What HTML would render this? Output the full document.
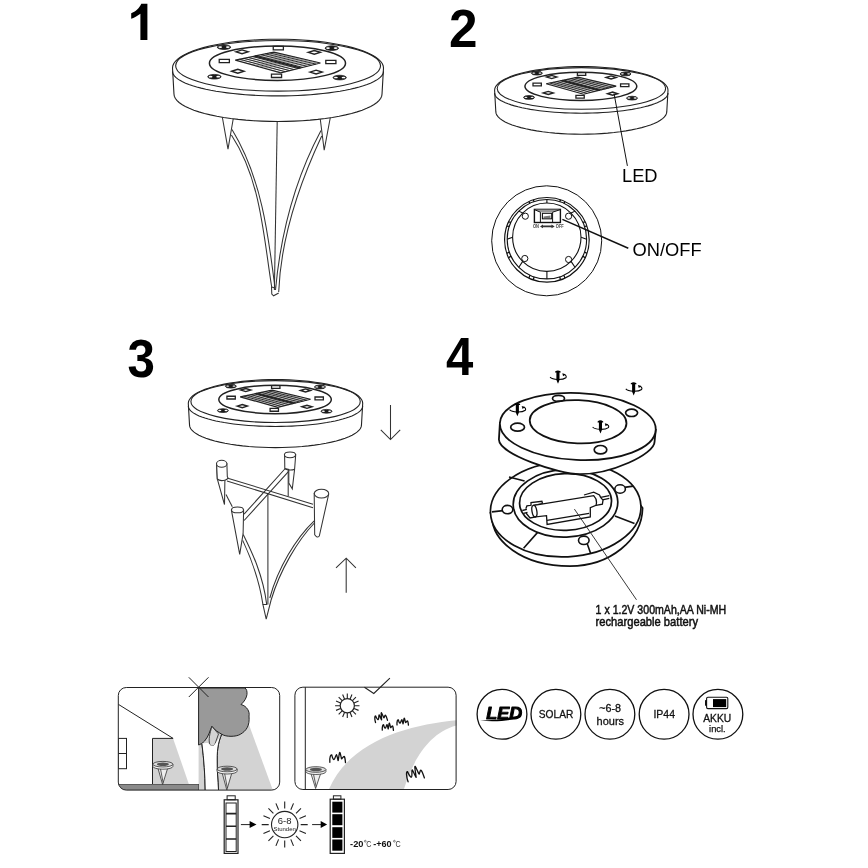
<!DOCTYPE html><html><head><meta charset="utf-8"><style>html,body{margin:0;padding:0;background:#fff;width:868px;height:868px;overflow:hidden}svg{display:block;filter:grayscale(1)}</style></head><body>
<svg width="868" height="868" viewBox="0 0 868 868" font-family='"Liberation Sans", sans-serif'>
<rect width="868" height="868" fill="#fff"/>
<defs><g id="disc" fill="none" stroke="#222" stroke-width="1.1"><path vector-effect="non-scaling-stroke" fill="#fff" d="M-100.00,3.30 L-99.69,1.16 L-98.77,-0.97 L-97.24,-3.07 L-95.11,-5.14 L-92.39,-7.15 L-89.10,-9.09 L-85.26,-10.96 L-80.90,-12.75 L-76.04,-14.43 L-70.71,-16.00 L-64.94,-17.46 L-58.78,-18.79 L-52.25,-19.98 L-45.40,-21.02 L-38.27,-21.92 L-30.90,-22.66 L-23.34,-23.25 L-15.64,-23.66 L-7.85,-23.92 L-0.00,-24.00 L7.85,-23.92 L15.64,-23.66 L23.34,-23.25 L30.90,-22.66 L38.27,-21.92 L45.40,-21.02 L52.25,-19.98 L58.78,-18.79 L64.94,-17.46 L70.71,-16.00 L76.04,-14.43 L80.90,-12.75 L85.26,-10.96 L89.10,-9.09 L92.39,-7.15 L95.11,-5.14 L97.24,-3.07 L98.77,-0.97 L99.69,1.16 L100.00,3.30 L98.60,28.00 L98.30,30.04 L97.39,32.07 L95.88,34.07 L93.77,36.03 L91.09,37.95 L87.85,39.80 L84.07,41.58 L79.77,43.28 L74.98,44.89 L69.72,46.38 L64.04,47.77 L57.96,49.03 L51.52,50.17 L44.76,51.17 L37.73,52.02 L30.47,52.73 L23.02,53.28 L15.42,53.68 L7.74,53.92 L0.00,54.00 L-7.74,53.92 L-15.42,53.68 L-23.02,53.28 L-30.47,52.73 L-37.73,52.02 L-44.76,51.17 L-51.52,50.17 L-57.96,49.03 L-64.04,47.77 L-69.72,46.38 L-74.98,44.89 L-79.77,43.28 L-84.07,41.58 L-87.85,39.80 L-91.09,37.95 L-93.77,36.03 L-95.88,34.07 L-97.39,32.07 L-98.30,30.04 L-98.60,28.00 Z"/><ellipse vector-effect="non-scaling-stroke" cx="0.1" cy="1.23" rx="97.1" ry="24"/><path vector-effect="non-scaling-stroke" d="M-100.00,6.45 L-99.80,7.91 L-99.21,9.37 L-98.23,10.82 L-96.86,12.24 L-95.11,13.65 L-92.98,15.03 L-90.48,16.37 L-87.63,17.67 L-84.43,18.93 L-80.90,20.15 L-77.05,21.30 L-72.90,22.40 L-68.45,23.43 L-63.74,24.40 L-58.78,25.30 L-53.58,26.12 L-48.18,26.87 L-42.58,27.53 L-36.81,28.11 L-30.90,28.61 L-24.87,29.02 L-18.74,29.34 L-12.53,29.57 L-6.28,29.70 L0.00,29.75 L6.28,29.70 L12.53,29.57 L18.74,29.34 L24.87,29.02 L30.90,28.61 L36.81,28.11 L42.58,27.53 L48.18,26.87 L53.58,26.12 L58.78,25.30 L63.74,24.40 L68.45,23.43 L72.90,22.40 L77.05,21.30 L80.90,20.15 L84.43,18.93 L87.63,17.67 L90.48,16.37 L92.98,15.03 L95.11,13.65 L96.86,12.24 L98.23,10.82 L99.21,9.37 L99.80,7.91 L100.00,6.45"/><ellipse vector-effect="non-scaling-stroke" cx="-0.5" cy="-1.2" rx="64.5" ry="16.3" stroke-width="1.5"/><ellipse vector-effect="non-scaling-stroke" cx="-51.2" cy="-16.4" rx="6.3" ry="2.2" fill="#1a1a1a" stroke-width="0.8"/><ellipse cx="-54.8" cy="-16.5" rx="1.8" ry="0.8" fill="#fff" stroke="none"/><ellipse cx="-47.6" cy="-16.5" rx="1.8" ry="0.8" fill="#fff" stroke="none"/><ellipse vector-effect="non-scaling-stroke" cx="51.0" cy="-15.5" rx="6.3" ry="2.2" fill="#1a1a1a" stroke-width="0.8"/><ellipse cx="47.4" cy="-15.6" rx="1.8" ry="0.8" fill="#fff" stroke="none"/><ellipse cx="54.6" cy="-15.6" rx="1.8" ry="0.8" fill="#fff" stroke="none"/><ellipse vector-effect="non-scaling-stroke" cx="-60.3" cy="11.6" rx="6.3" ry="2.2" fill="#1a1a1a" stroke-width="0.8"/><ellipse cx="-63.9" cy="11.5" rx="1.8" ry="0.8" fill="#fff" stroke="none"/><ellipse cx="-56.7" cy="11.5" rx="1.8" ry="0.8" fill="#fff" stroke="none"/><ellipse vector-effect="non-scaling-stroke" cx="58.5" cy="12.4" rx="6.3" ry="2.2" fill="#1a1a1a" stroke-width="0.8"/><ellipse cx="54.9" cy="12.3" rx="1.8" ry="0.8" fill="#fff" stroke="none"/><ellipse cx="62.1" cy="12.3" rx="1.8" ry="0.8" fill="#fff" stroke="none"/><rect vector-effect="non-scaling-stroke" x="-4.5" y="-17.1" width="9.6" height="3.2" fill="#fff" stroke-width="1.3"/><rect vector-effect="non-scaling-stroke" x="-6.2" y="9.1" width="9.6" height="3.2" fill="#fff" stroke-width="1.3"/><rect vector-effect="non-scaling-stroke" x="-55.7" y="-4.9" width="9.6" height="3.2" fill="#fff" stroke-width="1.3"/><rect vector-effect="non-scaling-stroke" x="45.3" y="-4.0" width="9.6" height="3.2" fill="#fff" stroke-width="1.3"/><path vector-effect="non-scaling-stroke" d="M-39.9,-12.0 L-34.1,-13.8 L-28.3,-12.0 L-34.1,-10.2 Z" fill="#fff" stroke-width="1.4"/><path vector-effect="non-scaling-stroke" d="M28.6,-11.5 L34.4,-13.3 L40.2,-11.5 L34.4,-9.7 Z" fill="#fff" stroke-width="1.4"/><path vector-effect="non-scaling-stroke" d="M-43.9,6.4 L-38.1,4.6 L-32.3,6.4 L-38.1,8.2 Z" fill="#fff" stroke-width="1.4"/><path vector-effect="non-scaling-stroke" d="M30.3,7.2 L36.1,5.4 L41.9,7.2 L36.1,9.0 Z" fill="#fff" stroke-width="1.4"/><path vector-effect="non-scaling-stroke" d="M-40.5,-4.2 L-3.9,-11.8 L40.2,-1.4 L2.6,7.9 Z" fill="#fff" stroke-width="1.2"/><path vector-effect="non-scaling-stroke" d="M-36.43,-5.04 L6.78,6.87 M-32.37,-5.89 L10.96,5.83 M-28.30,-6.73 L15.13,4.80 M-24.23,-7.58 L19.31,3.77 M-20.17,-8.42 L23.49,2.73 M-16.10,-9.27 L27.67,1.70 M-12.03,-10.11 L31.84,0.67 M-7.97,-10.96 L36.02,-0.37" stroke-width="0.95"/><path vector-effect="non-scaling-stroke" d="M-36.58,-3.10 L0.11,-10.85 M-32.66,-2.00 L4.12,-9.91 M-28.75,-0.90 L8.13,-8.96 M-24.83,0.20 L12.14,-8.02 M-20.91,1.30 L16.15,-7.07 M-16.99,2.40 L20.15,-6.13 M-13.07,3.50 L24.16,-5.18 M-9.15,4.60 L28.17,-4.24 M-5.24,5.70 L32.18,-3.29 M-1.32,6.80 L36.19,-2.35" stroke-width="0.4"/><path vector-effect="non-scaling-stroke" d="M-22.20,-8.00 L21.40,3.25" stroke-width="1.5"/></g></defs>
<text x="449" y="46.7" font-size="52.5" font-weight="bold" fill="#000" transform="translate(451,47) scale(0.976,1.01) translate(-451,-47)">2</text>
<text x="127.5" y="377.3" font-size="52.5" font-weight="bold" fill="#000" transform="translate(129,377.5) scale(0.94,1.02) translate(-129,-377.5)">3</text>
<text x="446" y="374.9" font-size="52.5" font-weight="bold" fill="#000" transform="translate(447,375) scale(0.936,1.01) translate(-447,-375)">4</text>
<path d="M141.3,3.7 L147.4,3.7 L147.4,40 L140.4,40 L140.4,13.8 C137.5,16 134,18 131.2,18.7 L131.2,13.2 C135.5,11.5 139.5,8 141.3,3.7 Z" fill="#000"/>
<g fill="none" stroke="#333" stroke-width="1.05">
<path d="M222.3,117 L228,149.2 L233.2,119" fill="#fff"/>
<path d="M320,117 L324.2,150.2 L330.6,116" fill="#fff"/>
<path d="M277.2,121.5 L274.4,290"/>
<path d="M231.4,135.0 C260.9,179.8 263.4,235.6 271.7,287.0"/>
<path d="M232.0,129.5 C261.2,177.2 268.3,233.7 275.0,288.0"/>
<path d="M321.7,136.0 C298.8,184.9 280.8,237.6 278.7,292.0"/>
<path d="M321.0,130.4 C294.8,179.4 280.5,234.9 275.5,290.0"/>
<path d="M271.5,287 L271.8,294 L273.6,295.8 L278.7,293 M271.5,287 L275,288"/>
</g>
<use href="#disc" transform="translate(278,64.5) scale(1.055)"/>
<use href="#disc" transform="translate(581.3,87.4) scale(0.867)"/>
<g fill="none" stroke="#111" stroke-width="1">
<path d="M614,93.4 L627.4,165.9"/>
<circle cx="546.7" cy="240.8" r="55"/>
<circle cx="546.9" cy="239.8" r="42.3" stroke-width="1.2"/>
<circle cx="546.9" cy="239.2" r="39.7" stroke-width="1.1"/>
<circle cx="546.8" cy="237.2" r="34.2" stroke-width="1.1"/>
<circle cx="525.3" cy="216.2" r="3.1"/>
<circle cx="568.6" cy="216.2" r="3.1"/>
<circle cx="524.8" cy="258.5" r="3.1"/>
<circle cx="568.6" cy="259.5" r="3.1"/>
<path d="M546.90,203.00 L546.90,199.50 M546.90,271.40 L546.90,278.90 M512.70,237.20 L507.20,239.20 M581.10,237.20 L586.60,239.20 M522.72,213.02 L518.83,211.13 M571.08,213.02 L574.97,211.13 M522.72,261.38 L518.83,267.27 M571.08,261.38 L574.97,267.27" stroke-width="1.1"/>
<path d="M530.00,203.28 L528.89,201.53 M534.11,201.62 L533.27,199.76 M559.69,201.62 L560.53,199.76 M563.80,203.28 L564.91,201.53 M509.32,226.41 L506.86,226.17 M510.98,222.30 L508.63,221.79 M582.82,222.30 L585.17,221.79 M584.48,226.41 L586.94,226.17 M510.98,256.10 L508.63,257.81 M509.32,251.99 L506.86,253.43 M584.48,251.99 L586.94,253.43 M582.82,256.10 L585.17,257.81 M534.11,276.78 L533.27,279.84 M530.00,275.12 L528.89,278.07 M563.80,275.12 L564.91,278.07 M559.69,276.78 L560.53,279.84" stroke-width="1.3"/>
<rect x="534.4" y="209.4" width="26" height="13.1" stroke-width="1.4" fill="#fff"/>
<path d="M534.4,209.6 L540.4,212.2 H552.6 L560.4,209.6 Z" fill="#999" stroke="none"/>
<path d="M540.4,212.2 V222.5 M552.6,212.2 V222.5 M534.4,209.6 L540.4,212.2 M560.4,209.6 L552.6,212.2" stroke-width="1"/>
<rect x="542.4" y="213.3" width="9.3" height="5.5" stroke-width="1.1" fill="#fff"/>
<path d="M543.5,216.5 L550.5,215.5 V218 H543.5 Z" fill="#777" stroke="none"/>
<path d="M562.4,219.4 L628.3,248.2" stroke-width="1.5"/>
</g>
<text x="533" y="228.2" font-size="4.6" font-weight="bold" fill="#444" textLength="6" lengthAdjust="spacingAndGlyphs">ON</text><text x="555.8" y="228.2" font-size="4.6" font-weight="bold" fill="#444" textLength="8" lengthAdjust="spacingAndGlyphs">OFF</text>
<path d="M540,226.4 L543,224.6 V225.6 H551.5 V224.6 L554.7,226.4 L551.5,228.2 V227.2 H543 V228.2 Z" fill="#333"/>
<text x="622" y="181.8" font-size="18.3" fill="#000">LED</text>
<text x="632.5" y="255.8" font-size="18.3" fill="#000">ON/OFF</text>
<use href="#disc" transform="translate(275.5,400.5) scale(0.872)"/>
<g fill="none" stroke="#333" stroke-width="1.05">
<path d="M390.5,405 V439.6 M380.8,429.9 L390.5,439.6 L400.2,429.9"/>
<path d="M346.2,558.2 V592.8 M336,567.8 L346.2,558.2 L355.9,567.8"/>
<path d="M243.2,534.4 C252,552 263,575 266.7,604.4 L262.9,604.4 C259,578 250,556 242.7,540.4" fill="#fff"/>
<path d="M262.9,604.4 L266.2,619.2 L271.1,600"/>
<path d="M314.4,523 C298,540 280,570 271.1,600 M314.2,520.8 C296,538 278,568 269.8,598"/>
<path d="M267.9,493 V604.4"/>
<path d="M288.2,469.2 V496.2"/>
<path d="M226,494.6 L232.3,506.8"/>
<path d="M227,477.9 L313,504.3 M227,480.9 L313,507.8" />
<path d="M244.1,514.1 L284.8,469 M244.1,520.5 L290,469.8"/>
<path d="M216.6,464.5 L217.3,479 L224.5,504.6 L224.9,479.4" fill="#fff"/>
<path d="M216.6,463.8 L217.3,479 A5.2,2.5 0 0 0 227.3,476.6 L226.9,463.8 Z" fill="#fff"/>
<ellipse cx="221.7" cy="463.8" rx="5.2" ry="3.5" fill="#fff"/>
<path d="M284.6,454.8 L284.8,468.6 L288.8,469.5 L288.8,483 L292.3,488.8 L294.6,469.2 L295.7,454.8 Z" fill="#fff"/>
<path d="M284.8,468.6 A5.5,2 0 0 0 294.6,469.2"/>
<ellipse cx="290" cy="454.8" rx="5.6" ry="2.9" fill="#fff"/>
<path d="M314.2,493.4 L314.7,534.8 Q317,538.5 319.3,536 L328.6,494.5 Z" fill="#fff"/>
<ellipse cx="321.5" cy="493.6" rx="7.2" ry="4.4" fill="#fff"/>
<path d="M231.4,510.2 L239.7,554.3 L243.1,533.7 L243.6,510.2 Z" fill="#fff"/>
<ellipse cx="237.5" cy="509.9" rx="6" ry="2.9" fill="#fff"/>
</g>
<g fill="none" stroke="#111" stroke-width="1.8">
<path d="M490.5,513 L491.9,517.6 C493,540 520,566 570,566.2 C610,566 642,540 642.6,508 L640.9,505.7 Z" fill="#fff" stroke-width="1.7"/>
<ellipse cx="565.7" cy="509.35" rx="75.3" ry="47.5" transform="rotate(-2.8 565.7 509.35)" fill="#fff" stroke-width="1.7"/>
<ellipse cx="565.5" cy="503.35" rx="52.3" ry="33.7" transform="rotate(-2 565.5 503.35)" fill="#fff" stroke-width="1.7"/>
<ellipse cx="565.55" cy="502" rx="46" ry="28.3" transform="rotate(-2 565.55 502)" stroke-width="1.7"/>
<path d="M491.9,511.9 L513.2,509.5 M509,477 L524.6,481.1 M523.6,548.2 L537.4,532.6 M590.7,553.5 L587.3,544 M614.9,516.1 L634.5,523.6 M616.9,488.4 L633.4,486.1" stroke-width="1.6"/>
<ellipse cx="507.5" cy="509.6" rx="5.3" ry="4.2" fill="#fff" stroke-width="1.6"/>
<ellipse cx="620.1" cy="489" rx="5.3" ry="4.2" fill="#fff" stroke-width="1.6"/>
<ellipse cx="583.8" cy="540.3" rx="5.3" ry="4.2" fill="#fff" stroke-width="1.6"/>
<g stroke-width="1.3" stroke-linejoin="miter">
<path d="M522.3,510.5 L526.9,509.4 M523.5,513.4 L527.5,512.3 M600.6,497.3 L609.3,495.6 M601.2,500.2 L609.3,498.4"/>
<path d="M525.8,508.8 L526.9,505.9 L531,505.3 L531,502.5 L541.9,501.3 L542.5,503.6 L533.8,505.3" fill="#fff"/>
<path d="M584,495 L593.7,492.1 L599.5,495 L600.6,497.3 L603,500.2 L602.4,504.2 L596,505.3" fill="#fff"/>
<path d="M533.8,505.3 L593.7,495.6 C596,498 597,502 596,505.3 L590.3,507.6 L590.3,516.9 L547.1,524.4 L546.5,515.7 L536.1,516.9 Z" fill="#fff"/>
<path d="M547,520.3 L589.1,513.4"/>
<ellipse cx="534.4" cy="511.1" rx="2.4" ry="5.8" transform="rotate(-10 534.4 511.1)" fill="#fff"/>
<path d="M526,513 L530,518 L536.1,516.9"/>
</g>
<path d="M499.9,423.1 L498.9,439.6 C498.9,454.3 559,474.2 580,474.2 C610.4,474.2 654.6,454.6 654.6,441.5 L655.7,429.9 Z" fill="#fff"/>
<ellipse cx="577.8" cy="426.5" rx="78" ry="33.5" fill="#fff" transform="rotate(2.5 577.8 426.5)"/>
<ellipse cx="578.1" cy="421.8" rx="48.4" ry="21.6" transform="rotate(2 578 422)"/>
<ellipse cx="517.6" cy="427.2" rx="6.9" ry="4" stroke-width="1.7"/>
<ellipse cx="558.5" cy="398.4" rx="6" ry="3" stroke-width="1.7"/>
<ellipse cx="631.6" cy="412.8" rx="6" ry="3.7" stroke-width="1.7"/>
<ellipse cx="600.5" cy="449.7" rx="6.3" ry="4.2" stroke-width="1.7"/>
</g>
<g transform="translate(557.7,383.7)"><path d="M-2.6,-12.2 Q0.2,-14.3 3,-12.2 V-11.2 H1.8 V-3.8 L0.3,0 L-1.3,-3.8 V-11.2 H-2.6 Z" fill="#000"/><path d="M-7.6,-6.6 C-5,-3.6 5,-3.6 8.2,-6 C9,-7.2 8.3,-8.6 6.6,-9.2" fill="none" stroke="#000" stroke-width="1.1"/><path d="M4.6,-10.4 L8,-9.4 L5.4,-7.4 Z" fill="#000"/></g>
<g transform="translate(633.4,395.5)"><path d="M-2.6,-12.2 Q0.2,-14.3 3,-12.2 V-11.2 H1.8 V-3.8 L0.3,0 L-1.3,-3.8 V-11.2 H-2.6 Z" fill="#000"/><path d="M-7.6,-6.6 C-5,-3.6 5,-3.6 8.2,-6 C9,-7.2 8.3,-8.6 6.6,-9.2" fill="none" stroke="#000" stroke-width="1.1"/><path d="M4.6,-10.4 L8,-9.4 L5.4,-7.4 Z" fill="#000"/></g>
<g transform="translate(517.1,416.3)"><path d="M-2.6,-12.2 Q0.2,-14.3 3,-12.2 V-11.2 H1.8 V-3.8 L0.3,0 L-1.3,-3.8 V-11.2 H-2.6 Z" fill="#000"/><path d="M-7.6,-6.6 C-5,-3.6 5,-3.6 8.2,-6 C9,-7.2 8.3,-8.6 6.6,-9.2" fill="none" stroke="#000" stroke-width="1.1"/><path d="M4.6,-10.4 L8,-9.4 L5.4,-7.4 Z" fill="#000"/></g>
<g transform="translate(600.2,433.6)"><path d="M-2.6,-12.2 Q0.2,-14.3 3,-12.2 V-11.2 H1.8 V-3.8 L0.3,0 L-1.3,-3.8 V-11.2 H-2.6 Z" fill="#000"/><path d="M-7.6,-6.6 C-5,-3.6 5,-3.6 8.2,-6 C9,-7.2 8.3,-8.6 6.6,-9.2" fill="none" stroke="#000" stroke-width="1.1"/><path d="M4.6,-10.4 L8,-9.4 L5.4,-7.4 Z" fill="#000"/></g>
<path d="M574.4,509.1 L636.5,599.8" stroke="#222" stroke-width="0.9"/>
<text x="595.6" y="613.6" font-size="12.4" fill="#111" stroke="#111" stroke-width="0.5" textLength="130.6" lengthAdjust="spacingAndGlyphs">1 x 1.2V 300mAh,AA Ni-MH</text>
<text x="595.6" y="625.8" font-size="12.4" fill="#111" stroke="#111" stroke-width="0.5" textLength="102.4" lengthAdjust="spacingAndGlyphs">rechargeable battery</text>
<clipPath id="cp1"><rect x="118.3" y="687.5" width="161.4" height="102.6" rx="8"/></clipPath>
<g stroke="#222" stroke-width="1" clip-path="url(#cp1)">
<polygon points="152.5,738.4 173.1,738.4 188.8,784 152.5,784" fill="#d3d3d3" stroke="none"/>
<path d="M152.5,784 V738.4 H173.1" fill="none"/>
<polygon points="198.6,725 248,722 272.8,790 198.6,790" fill="#d3d3d3" stroke="none"/>
<rect x="110" y="784.4" width="88.6" height="8" fill="#8a8a8a" stroke="#444" stroke-width="0.8"/>
<path d="M118.3,704.3 L173.1,738.4" fill="none"/>
<rect x="118.3" y="738.4" width="8.2" height="30.3" fill="none"/><path d="M118.3,753.5 H126.5"/>
<path d="M198.6,688 H245 C248,690 248.5,698 241,704.5 C247,706 250,712 249,716 C250,726 246,731 240.3,734.3 C236,737 226,737 221.8,734.3 C216,731 213,728 211.9,726.4 C210,730 209,736 204.6,741 C203,743 200,744.5 198.6,745 Z" fill="#999"/>
<path d="M211.9,726.4 C210,733 208,740 210,745 C212,747 214,746 215,744 L218.5,734 Z" fill="#d3d3d3" stroke="#222" stroke-width="0.8"/>
<path d="M201.9,743.6 C204,760 205,775 205.2,790 M221.8,734.3 C219,740 217,748 217.2,760 C217,770 218,780 218.5,790" fill="none"/>
<path d="M201.9,743.6 C204,760 205,775 205.2,790 H218.5 C218,780 217,770 217.2,760 C217,748 219,740 221.8,734.3 L215,744 C214,746 212,747 210,745 C209,742 205,743 201.9,743.6Z" fill="#fff" stroke="none"/>
<path d="M201.9,743.6 C204,760 205,775 205.2,790 M221.8,734.3 C219,740 217,748 217.2,760 C217,770 218,780 218.5,790" fill="none"/>
</g>
<g stroke="#222" stroke-width="1"><rect x="118.3" y="687.5" width="161.4" height="102.6" rx="8" fill="none"/>
<path d="M188.8,677.3 L208.5,697 M208.5,677.3 L188.8,697" fill="none"/>
</g>
<g stroke="#333" stroke-width="0.8"><path d="M158.1,768.7 L162.6,784.5 L167.5,768.7" fill="#eee"/><path d="M160.5,769.0 L163.1,782.5" fill="none"/><path d="M152.9,764.2 V766.4 A10,2.8 0 0 0 172.9,766.4 V764.2" fill="#f4f4f4"/><ellipse cx="162.9" cy="764.2" rx="10" ry="2.8" fill="#ddd"/><ellipse cx="162.9" cy="764.2" rx="6" ry="1.7" fill="#555" stroke="none"/></g>
<g stroke="#333" stroke-width="0.8"><path d="M222.3,773.5 L226.8,790.0 L231.7,773.5" fill="#eee"/><path d="M224.7,773.8 L227.3,788.0" fill="none"/><path d="M217.1,769.0 V771.2 A10,2.8 0 0 0 237.1,771.2 V769.0" fill="#f4f4f4"/><ellipse cx="227.1" cy="769.0" rx="10" ry="2.8" fill="#ddd"/><ellipse cx="227.1" cy="769.0" rx="6" ry="1.7" fill="#555" stroke="none"/></g>
<g stroke="#222" stroke-width="1">
<path d="M328.9,790 L328.9,789.3 C350.0,740.7 408.2,724.8 456.5,720.2 L456.5,725.6 C427.1,733.4 412.2,763.0 403.9,789.3 L403.9,790 Z" fill="#d3d3d3" stroke="none"/>
<rect x="294.9" y="687.2" width="161.2" height="102.3" rx="8" fill="none"/>
<path d="M305.3,687.2 V789.5" fill="none"/>
<path d="M364.4,687.2 L373.8,693.5 L389.9,678.2" fill="none" stroke-width="1.1"/>
<circle cx="347.3" cy="705.7" r="7.1" fill="none" stroke-width="1.2"/>
<path d="M354.60,705.70 L359.50,705.70 M354.04,708.49 L358.57,710.37 M352.46,710.86 L355.93,714.33 M350.09,712.44 L351.97,716.97 M347.30,713.00 L347.30,717.90 M344.51,712.44 L342.63,716.97 M342.14,710.86 L338.67,714.33 M340.56,708.49 L336.03,710.37 M340.00,705.70 L335.10,705.70 M340.56,702.91 L336.03,701.03 M342.14,700.54 L338.67,697.07 M344.51,698.96 L342.63,694.43 M347.30,698.40 L347.30,693.50 M350.09,698.96 L351.97,694.43 M352.46,700.54 L355.93,697.07 M354.04,702.91 L358.57,701.03" fill="none" stroke-width="1.1"/>
<path transform="translate(329.0,752.2) rotate(0) scale(17.00,10.70)" d="M0.05,0.94 C0.02,0.5 0.1,0.2 0.16,0.25 C0.2,0.5 0.24,0.72 0.3,0.68 C0.36,0.64 0.4,0.2 0.44,0.22 C0.48,0.3 0.52,0.8 0.54,0.78 C0.57,0.6 0.6,0.0 0.64,0.03 C0.68,0.1 0.72,0.65 0.75,0.62 C0.8,0.55 0.86,0.35 0.9,0.4 C0.95,0.5 0.96,0.8 0.97,0.97" fill="none" stroke="#111" stroke-width="1.3" vector-effect="non-scaling-stroke" stroke-linecap="round"/>
<path transform="translate(373.1,714.2) rotate(-12) scale(13.20,9.20)" d="M0.05,0.94 C0.02,0.5 0.1,0.2 0.16,0.25 C0.2,0.5 0.24,0.72 0.3,0.68 C0.36,0.64 0.4,0.2 0.44,0.22 C0.48,0.3 0.52,0.8 0.54,0.78 C0.57,0.6 0.6,0.0 0.64,0.03 C0.68,0.1 0.72,0.65 0.75,0.62 C0.8,0.55 0.86,0.35 0.9,0.4 C0.95,0.5 0.96,0.8 0.97,0.97" fill="none" stroke="#111" stroke-width="1.3" vector-effect="non-scaling-stroke" stroke-linecap="round"/>
<path transform="translate(381.7,722.9) rotate(0) scale(12.10,7.70)" d="M0.05,0.94 C0.02,0.5 0.1,0.2 0.16,0.25 C0.2,0.5 0.24,0.72 0.3,0.68 C0.36,0.64 0.4,0.2 0.44,0.22 C0.48,0.3 0.52,0.8 0.54,0.78 C0.57,0.6 0.6,0.0 0.64,0.03 C0.68,0.1 0.72,0.65 0.75,0.62 C0.8,0.55 0.86,0.35 0.9,0.4 C0.95,0.5 0.96,0.8 0.97,0.97" fill="none" stroke="#111" stroke-width="1.3" vector-effect="non-scaling-stroke" stroke-linecap="round"/>
<path transform="translate(396.4,718.0) rotate(0) scale(12.40,7.40)" d="M0.05,0.94 C0.02,0.5 0.1,0.2 0.16,0.25 C0.2,0.5 0.24,0.72 0.3,0.68 C0.36,0.64 0.4,0.2 0.44,0.22 C0.48,0.3 0.52,0.8 0.54,0.78 C0.57,0.6 0.6,0.0 0.64,0.03 C0.68,0.1 0.72,0.65 0.75,0.62 C0.8,0.55 0.86,0.35 0.9,0.4 C0.95,0.5 0.96,0.8 0.97,0.97" fill="none" stroke="#111" stroke-width="1.3" vector-effect="non-scaling-stroke" stroke-linecap="round"/>
<path transform="translate(403.7,768.9) rotate(-15) scale(18.20,14.50)" d="M0.05,0.94 C0.02,0.5 0.1,0.2 0.16,0.25 C0.2,0.5 0.24,0.72 0.3,0.68 C0.36,0.64 0.4,0.2 0.44,0.22 C0.48,0.3 0.52,0.8 0.54,0.78 C0.57,0.6 0.6,0.0 0.64,0.03 C0.68,0.1 0.72,0.65 0.75,0.62 C0.8,0.55 0.86,0.35 0.9,0.4 C0.95,0.5 0.96,0.8 0.97,0.97" fill="none" stroke="#111" stroke-width="1.3" vector-effect="non-scaling-stroke" stroke-linecap="round"/>
</g>
<g stroke="#333" stroke-width="0.8"><path d="M311.1,774.0 L315.6,788.5 L320.5,774.0" fill="#eee"/><path d="M313.5,774.3 L316.1,786.5" fill="none"/><path d="M305.9,769.5 V771.7 A10,2.8 0 0 0 325.9,771.7 V769.5" fill="#f4f4f4"/><ellipse cx="315.9" cy="769.5" rx="10" ry="2.8" fill="#ddd"/><ellipse cx="315.9" cy="769.5" rx="6" ry="1.7" fill="#555" stroke="none"/></g>
<g stroke="#222" stroke-width="1" fill="none">
<rect x="224.2" y="799.8" width="13.8" height="53.6" stroke-width="1.2"/>
<rect x="227.1" y="795.8" width="8.1" height="4"/>
<rect x="226" y="803" width="10.2" height="48.5"/>
<path d="M226,813.6 H236.2 M226,826.3 H236.2 M226,839 H236.2" stroke-width="1.6"/>
<path d="M240.9,824.6 H250"/><path d="M249.6,821.1 L256.5,824.6 L249.6,828 Z" fill="#000" stroke="none"/>
<circle cx="284.7" cy="824.6" r="13.2" stroke-width="1.1"/>
<path d="M300.70,824.60 L307.70,824.60 M299.48,830.72 L305.95,833.40 M296.01,835.91 L300.96,840.86 M290.82,839.38 L293.50,845.85 M284.70,840.60 L284.70,847.60 M278.58,839.38 L275.90,845.85 M273.39,835.91 L268.44,840.86 M269.92,830.72 L263.45,833.40 M268.70,824.60 L261.70,824.60 M269.92,818.48 L263.45,815.80 M273.39,813.29 L268.44,808.34 M278.58,809.82 L275.90,803.35 M284.70,808.60 L284.70,801.60 M290.82,809.82 L293.50,803.35 M296.01,813.29 L300.96,808.34 M299.48,818.48 L305.95,815.80" stroke-width="1.1"/>
<path d="M312.1,824.6 H321"/><path d="M320.7,821.1 L327.1,824.6 L320.7,828 Z" fill="#000" stroke="none"/>
<rect x="330.2" y="799.2" width="14.2" height="54.2" stroke-width="1.2"/>
<rect x="333.4" y="795.8" width="7.5" height="3.4"/>
</g>
<rect x="332.3" y="801.7" width="10.1" height="10.9" fill="#000"/>
<rect x="332.3" y="814.2" width="10.1" height="11.0" fill="#000"/>
<rect x="332.3" y="827.2" width="10.1" height="10.7" fill="#000"/>
<rect x="332.3" y="839.5" width="10.1" height="11.2" fill="#000"/>
<text x="284.7" y="824" font-size="9.5" text-anchor="middle" fill="#222">6-8</text>
<text x="284.7" y="830.5" font-size="6" text-anchor="middle" fill="#222">Stunden</text>
<text x="350.1" y="847.1" font-size="9.8" font-weight="bold" fill="#111" textLength="13.4" lengthAdjust="spacingAndGlyphs">-20</text>
<text x="373.2" y="847.1" font-size="9.8" font-weight="bold" fill="#111" textLength="18.4" lengthAdjust="spacingAndGlyphs">-+60</text>
<circle cx="365.3" cy="841.2" r="0.9" fill="none" stroke="#333" stroke-width="0.6"/>
<text x="366.3" y="847.1" font-size="9.4" fill="#333" textLength="5.2" lengthAdjust="spacingAndGlyphs">C</text>
<circle cx="394.4" cy="841.2" r="0.9" fill="none" stroke="#333" stroke-width="0.6"/>
<text x="395.4" y="847.1" font-size="9.4" fill="#333" textLength="5.2" lengthAdjust="spacingAndGlyphs">C</text>
<circle cx="502" cy="714.3" r="24.9" fill="none" stroke="#111" stroke-width="1.3"/>
<circle cx="555.9" cy="714.3" r="24.9" fill="none" stroke="#111" stroke-width="1.3"/>
<circle cx="609.9" cy="714.3" r="24.9" fill="none" stroke="#111" stroke-width="1.3"/>
<circle cx="664.1" cy="714.3" r="24.9" fill="none" stroke="#111" stroke-width="1.3"/>
<circle cx="717.9" cy="714.3" r="24.9" fill="none" stroke="#111" stroke-width="1.3"/>
<text x="486.3" y="718.6" font-size="15.6" font-weight="bold" font-style="italic" fill="#000" stroke="#000" stroke-width="0.9" stroke-linejoin="round" textLength="35.8" lengthAdjust="spacingAndGlyphs">LED</text>
<path d="M480,720.6 C495,720.2 510,718.8 521.5,714.6 L521,717 C512,720.6 496,722.4 480,720.6 Z" fill="#000"/>
<text x="538.8" y="718.4" font-size="11.6" fill="#111" stroke="#111" stroke-width="0.3" textLength="34.5" lengthAdjust="spacingAndGlyphs">SOLAR</text>
<text x="599.2" y="712.3" font-size="11.6" fill="#111" stroke="#111" stroke-width="0.3" textLength="21.9" lengthAdjust="spacingAndGlyphs">~6-8</text>
<text x="596.6" y="724.8" font-size="11.6" fill="#111" stroke="#111" stroke-width="0.3" textLength="27.5" lengthAdjust="spacingAndGlyphs">hours</text>
<text x="653.4" y="718.2" font-size="11.6" fill="#111" stroke="#111" stroke-width="0.3" textLength="21.6" lengthAdjust="spacingAndGlyphs">IP44</text>
<text x="703.2" y="721.6" font-size="10.4" fill="#111" stroke="#111" stroke-width="0.3" textLength="28" lengthAdjust="spacingAndGlyphs">AKKU</text>
<text x="709.1" y="731.5" font-size="8.6" fill="#111" stroke="#111" stroke-width="0.25" textLength="16.6" lengthAdjust="spacingAndGlyphs">incl.</text>
<rect x="706.6" y="697.3" width="21.2" height="11.3" rx="1.3" fill="none" stroke="#111" stroke-width="1.1"/>
<rect x="713" y="699.1" width="13.2" height="8" fill="#000"/>
<rect x="705" y="700.1" width="2" height="5.7" rx="0.6" fill="#111"/>
</svg></body></html>
